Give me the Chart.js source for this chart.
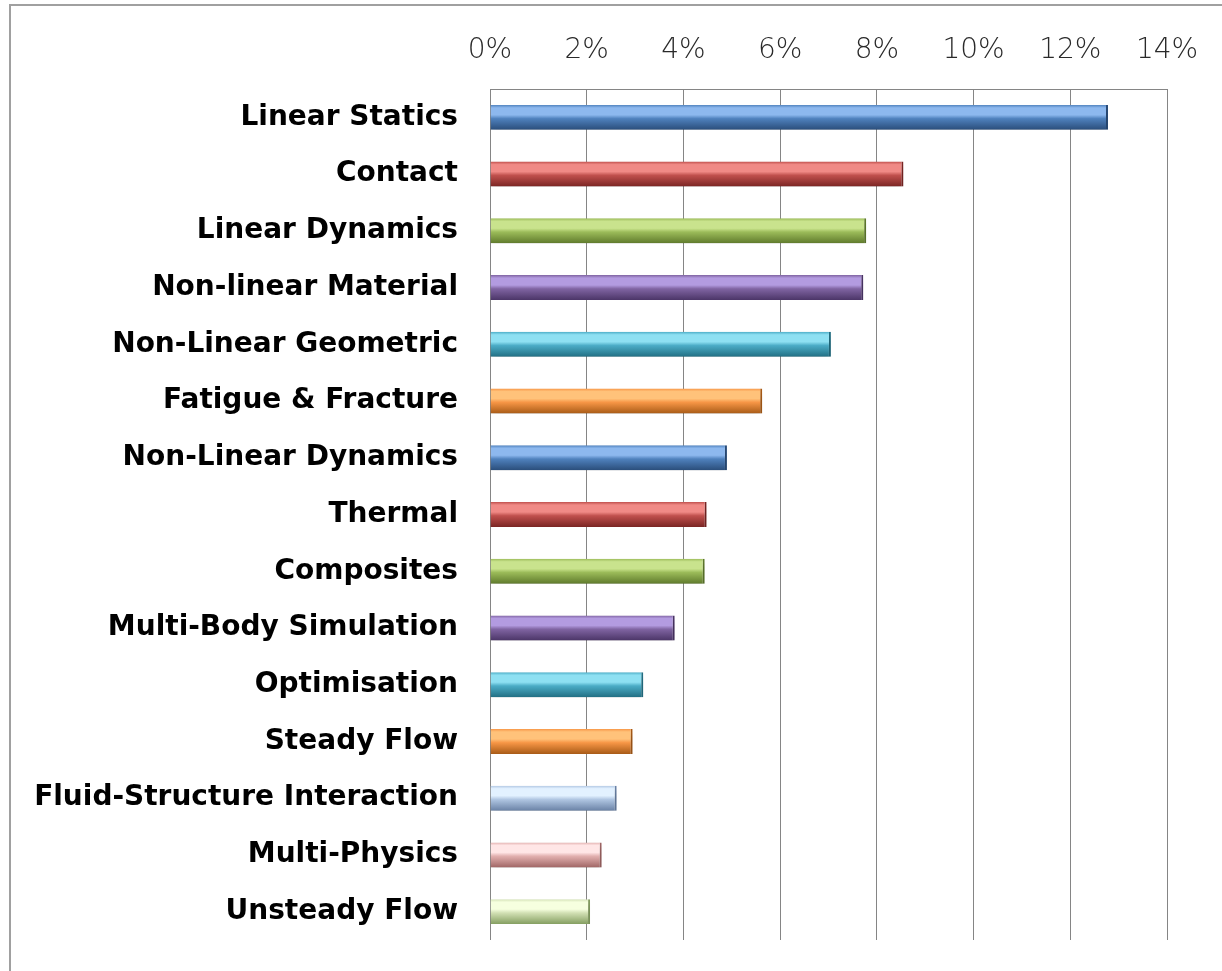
<!DOCTYPE html>
<html>
<head>
<meta charset="utf-8">
<script src="https://cdn.jsdelivr.net/npm/chart.js@4.4.1/dist/chart.umd.min.js"></script>
<style>
  html, body { margin: 0; padding: 0; background: #fff; overflow: hidden; }
  #frame { position: absolute; left: 9px; top: 4px; width: 1400px; height: 1200px; border: 2px solid #a0a0a0; }
  #wrap { position: absolute; left: 0; top: 0; width: 1222px; height: 971px; }
</style>
</head>
<body>
<div id="frame"></div>
<div id="wrap"><canvas id="analysisChart" width="1222" height="971"></canvas></div>
<script>
// Share of analysis types (horizontal bar chart)
const categories = [
  'Linear Statics', 'Contact', 'Linear Dynamics', 'Non-linear Material',
  'Non-Linear Geometric', 'Fatigue & Fracture', 'Non-Linear Dynamics', 'Thermal',
  'Composites', 'Multi-Body Simulation', 'Optimisation', 'Steady Flow',
  'Fluid-Structure Interaction', 'Multi-Physics', 'Unsteady Flow'
];
const shares = [12.78, 8.55, 7.78, 7.72, 7.05, 5.63, 4.9, 4.48, 4.44, 3.82, 3.17, 2.95, 2.62, 2.31, 2.07];
const xTicks = [0, 2, 4, 6, 8, 10, 12, 14];

// bar colours (top highlight, mid, bottom shade)
const barColors = [
  ['#8db8ee', '#4f81bd', '#2a4d7a'],
  ['#f08a86', '#c0504d', '#7a2523'],
  ['#c9e38d', '#9bbb59', '#5f7a2c'],
  ['#b39be0', '#8064a2', '#4b3567'],
  ['#8ee0f2', '#4bacc6', '#226f83'],
  ['#ffc27a', '#f79646', '#a85b17'],
  ['#8db8ee', '#4f81bd', '#2a4d7a'],
  ['#f08a86', '#c0504d', '#7a2523'],
  ['#c9e38d', '#9bbb59', '#5f7a2c'],
  ['#b39be0', '#8064a2', '#4b3567'],
  ['#8ee0f2', '#4bacc6', '#226f83'],
  ['#ffc27a', '#f79646', '#a85b17'],
  ['#e2f1ff', '#b0c6e2', '#6a82a6'],
  ['#ffe6e6', '#e2b0af', '#a06665'],
  ['#f6ffdf', '#d2e0b4', '#849e60']
];

function barGradient(context) {
  const chart = context.chart;
  const c = barColors[context.dataIndex % barColors.length];
  const yScale = chart.scales.y;
  if (!yScale || context.type !== 'data') return c[1];
  const yc = yScale.getPixelForValue(context.dataIndex);
  if (!Number.isFinite(yc)) return c[1];
  const h = 12.5;
  const g = chart.ctx.createLinearGradient(0, yc - h, 0, yc + h);
  g.addColorStop(0, c[1]);
  g.addColorStop(0.12, c[0]);
  g.addColorStop(0.4, c[0]);
  g.addColorStop(0.55, c[1]);
  g.addColorStop(1, c[2]);
  return g;
}

const barShadow = {
  id: 'barShadow',
  beforeDatasetsDraw(chart) {
    const ctx = chart.ctx;
    ctx.save();
    ctx.shadowColor = 'rgba(0,0,0,0.28)';
    ctx.shadowBlur = 7;
    ctx.shadowOffsetY = 5;
  },
  afterDatasetsDraw(chart) {
    chart.ctx.restore();
  }
};

document.addEventListener('DOMContentLoaded', function() {
  const ctx = document.getElementById('analysisChart');
  new Chart(ctx, {
    type: 'bar',
    data: {
      labels: categories,
      datasets: [{
        data: shares,
        backgroundColor: barGradient,
        borderColor: function(context) {
          return barColors[context.dataIndex % barColors.length][2];
        },
        borderWidth: { top: 0, bottom: 0, left: 0, right: 2 },
        borderSkipped: false,
        barPercentage: 0.44,
        categoryPercentage: 1
      }]
    },
    plugins: [barShadow],
    options: {
      indexAxis: 'y',
      responsive: false,
      animation: false,
      devicePixelRatio: 1,
      layout: {
        padding: { left: 0, right: 55, top: 0, bottom: 31 }
      },
      scales: {
        x: {
          position: 'top',
          min: 0,
          max: 14,
          afterBuildTicks: function(scale) {
            scale.ticks = xTicks.map(v => ({ value: v }));
          },
          afterFit: function(scale) {
            scale.height = 89;
          },
          ticks: {
            padding: 21,
            color: '#2a2a2a',
            font: { family: '"DejaVu Sans"', weight: 200, size: 28 },
            callback: v => v + '%'
          },
          grid: {
            color: '#858585',
            lineWidth: 1,
            drawTicks: false
          },
          border: { display: true, color: '#858585', width: 1 }
        },
        y: {
          afterFit: function(scale) {
            scale.width = 490;
            scale.paddingTop = 0;
            scale.paddingBottom = 0;
          },
          ticks: {
            padding: 32,
            color: '#000',
            font: { family: '"DejaVu Sans"', weight: 'bold', size: 28 }
          },
          grid: { display: false, drawTicks: false },
          border: { display: false }
        }
      },
      plugins: {
        legend: { display: false },
        tooltip: { enabled: false }
      }
    }
  });
});
</script>
</body>
</html>
